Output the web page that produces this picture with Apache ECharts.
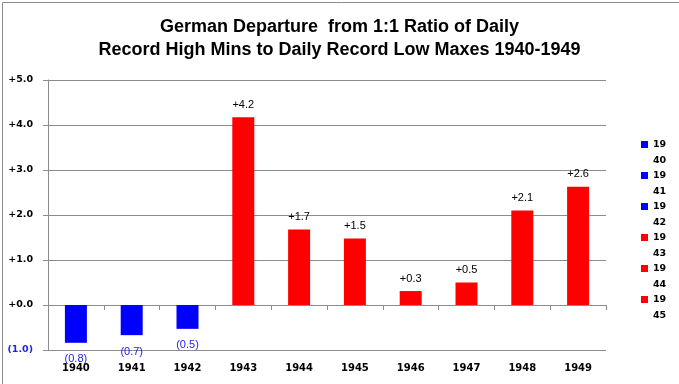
<!DOCTYPE html>
<html><head><meta charset="utf-8">
<script src="https://cdn.jsdelivr.net/npm/echarts@6/dist/echarts.min.js"></script>
<style>html,body{margin:0;padding:0;background:#fff}#c{width:679px;height:384px}</style>
</head><body><div id="c"></div>
<script>
const titleLines = ["German Departure  from 1:1 Ratio of Daily", "Record High Mins to Daily Record Low Maxes 1940-1949"];
const years = ["1940","1941","1942","1943","1944","1945","1946","1947","1948","1949"];
const values = [-0.84, -0.67, -0.53, 4.17, 1.68, 1.48, 0.31, 0.50, 2.10, 2.63];
const legendShown = ["1940","1941","1942","1943","1944","1945"];
const yMin = -1, yMax = 5, yStep = 1;

const NEG = '#0000FF', POS = '#FF0000', NEG_TXT = '#2222EE';
const FONT = 'DejaVu Sans';
function fmt(v){ return v < 0 ? '(' + Math.abs(v).toFixed(1) + ')' : '+' + v.toFixed(1); }

const series = years.map((y, i) => ({
  name: y,
  type: 'bar',
  xAxisIndex: 0,
  barWidth: 22,
  barGap: '-100%',
  itemStyle: { color: values[i] < 0 ? NEG : POS },
  label: {
    show: true,
    position: values[i] < 0 ? 'bottom' : 'top',
    distance: values[i] < 0 ? 11 : 7,
    fontFamily: 'Liberation Sans', fontSize: 11,
    color: values[i] < 0 ? NEG_TXT : '#000',
    formatter: p => fmt(p.value)
  },
  data: years.map((_, j) => j === i ? values[i] : '-')
}));

// square placed at the top of a tall legend box, aligned with the first text line
const legendIcon = 'path://M0,0h0.01v0.01h-0.01z M0,4h7v7h-7z M0,31h0.01v-0.01h-0.01z';

const chart = echarts.init(document.getElementById('c'), null, {renderer: 'canvas'});
chart.setOption({
  animation: false,
  backgroundColor: '#fff',
  graphic: [{ type: 'rect', left: 0, top: 0, shape: {width: 678, height: 383}, style: {fill: 'none', stroke: '#8c8c8c', lineWidth: 1}, silent: true, z: -1 }],
  title: {
    text: titleLines.join('\n'), left: 'center', top: 11,
    textStyle: { fontFamily: 'Liberation Sans', fontWeight: 'bold', fontSize: 18, lineHeight: 23, color: '#000' }
  },
  legend: {
    data: legendShown, orient: 'vertical', left: 641, top: 137, padding: 0,
    itemWidth: 7, itemHeight: 31, itemGap: 0, itemTextGap: 4, icon: legendIcon,
    textStyle: { fontFamily: FONT, fontWeight: 'bold', fontSize: 9.5, color: '#000', width: 14, overflow: 'breakAll', lineHeight: 15.5 }
  },
  grid: { left: 48, right: 73, top: 80, bottom: 34, containLabel: false },
  xAxis: [{
    type: 'category', data: years, position: 'bottom',
    axisLine: { show: false, onZero: false }, axisTick: { show: false },
    axisLabel: { fontFamily: FONT, fontWeight: 'bold', fontSize: 10, color: '#000', margin: 13 }
  }, {
    type: 'category', data: years, position: 'bottom',
    axisLine: { show: true, onZero: true, lineStyle: { color: '#8c8c8c', width: 1 } },
    axisTick: { show: true, length: 5, lineStyle: { color: '#8c8c8c' } },
    axisLabel: { show: false }
  }],
  yAxis: {
    type: 'value', min: yMin, max: yMax, interval: yStep,
    axisLine: { show: true, lineStyle: { color: '#8c8c8c' } },
    axisTick: { show: true, length: 5, lineStyle: { color: '#8c8c8c' } },
    splitLine: { lineStyle: { color: '#8c8c8c', width: 1 } },
    axisLabel: { fontFamily: FONT, fontWeight: 'bold', fontSize: 9.5, margin: 15, formatter: v => fmt(v),
      color: v => (v < 0 ? NEG_TXT : '#000') }
  },
  series: series
});
</script></body></html>
